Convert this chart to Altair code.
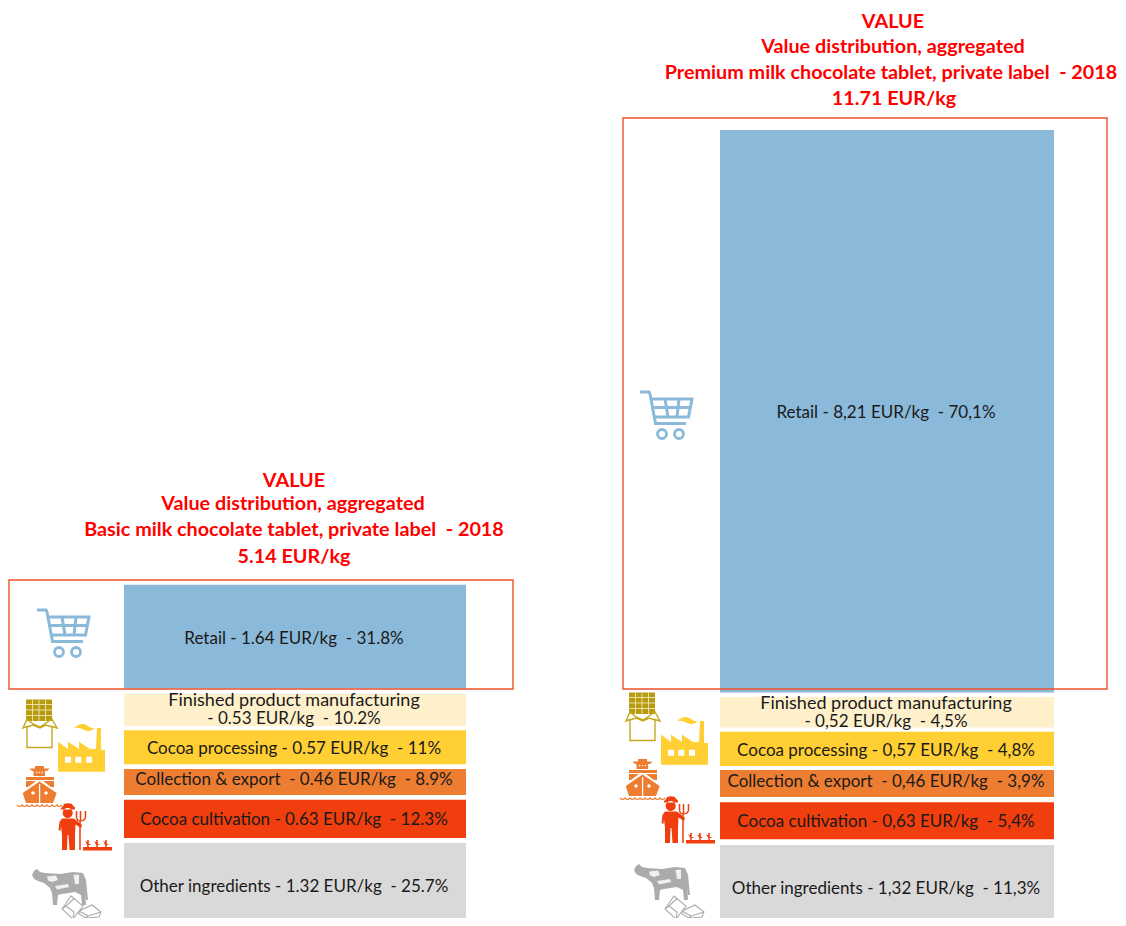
import altair as alt
import pandas as pd

# ---- data -----------------------------------------------------------------------
stages = ["Other ingredients", "Cocoa cultivation", "Collection & export",
          "Cocoa processing", "Finished product manufacturing", "Retail"]
colors = ["#D9D9D9", "#F03E0E", "#ED7D31", "#FFCF33", "#FFF0CC", "#8AB9D9"]
# drawn bar heights, bottom to top, in the chart's vertical units
basic_heights = [1.344, 0.628, 0.426, 0.557, 0.528, 1.697]
premium_heights = [1.311, 0.607, 0.443, 0.562, 0.500, 9.221]
basic_gaps = [0.082, 0.077, 0.077, 0.070, 0.090]
premium_gaps = [0.093, 0.087, 0.066, 0.069, 0.074]
NB = "\u00a0"
basic_labels = [f"Other ingredients - 1.32 EUR/kg {NB}- 25.7%",
                f"Cocoa cultivation - 0.63 EUR/kg {NB}- 12.3%",
                f"Collection & export {NB}- 0.46 EUR/kg {NB}- 8.9%",
                f"Cocoa processing - 0.57 EUR/kg {NB}- 11%",
                f"Finished product manufacturing\n- 0.53 EUR/kg {NB}- 10.2%",
                f"Retail - 1.64 EUR/kg {NB}- 31.8%"]
premium_labels = [f"Other ingredients - 1,32 EUR/kg {NB}- 11,3%",
                  f"Cocoa cultivation - 0,63 EUR/kg {NB}- 5,4%",
                  f"Collection & export {NB}- 0,46 EUR/kg {NB}- 3,9%",
                  f"Cocoa processing - 0,57 EUR/kg {NB}- 4,8%",
                  f"Finished product manufacturing\n- 0,52 EUR/kg {NB}- 4,5%",
                  f"Retail - 8,21 EUR/kg {NB}- 70,1%"]
basic_title = ["VALUE", "Value distribution, aggregated",
               f"Basic milk chocolate tablet, private label {NB}- 2018", "5.14 EUR/kg"]
premium_title = ["VALUE", "Value distribution, aggregated",
                 f"Premium milk chocolate tablet, private label {NB}- 2018", "11.71 EUR/kg"]

# ---- layout ---------------------------------------------------------------------
W, H = 1110, 910        # the page keeps an 8px margin, so this is all that fits
M = 8
UNIT = 61.0
FONT = "Lato"
LABEL_SIZE = 17
LINE = 18
TITLE_SIZE = 19.8
RED = "#FF0000"
FRAME = "#F0502A"
BLUE, GOLD, YELLOW, ORANGE, FLAME, GREY = "#8AB9D9", "#C4A920", "#FFCF33", "#ED7D31", "#F03E0E", "#ABABAB"

x_scale = alt.Scale(domain=[0, W], range=[0, W], nice=False, zero=False)
y_scale = alt.Scale(domain=[-1 / UNIT, 917 / UNIT], range=[918, 0], nice=False, zero=False)
# label nudges in pixels (upwards positive): panel -> stage index -> nudge
NUDGE = {"Basic": {0: -2.5, 1: -1, 2: 2, 3: -2, 4: -0.5, 5: -2},
         "Premium": {0: -4, 1: -1, 2: 1.5, 3: -2, 4: -0.5, 5: -1.5}}


def segments(panel, heights, gaps, labels, left, right):
    rows, texts, y = [], [], 0.0
    for i, s in enumerate(stages):
        rows.append(dict(panel=panel, stage=s, y0=y, y1=y + heights[i],
                         xa=left - M, xb=right - M))
        parts = labels[i].split("\n")
        mid = y + heights[i] / 2 + NUDGE[panel].get(i, 0) / UNIT
        for k, part in enumerate(parts):
            off = ((len(parts) - 1) / 2 - k) * LINE / UNIT
            texts.append(dict(label=part, xc=(left + right) / 2 - M - 1, ym=mid + off,
                              fs=18 if part.startswith("Finished") else LABEL_SIZE))
        if i < len(gaps):
            y += heights[i] + gaps[i]
    return rows, texts


r1, t1 = segments("Basic", basic_heights, basic_gaps, basic_labels, 124, 466)
r2, t2 = segments("Premium", premium_heights, premium_gaps, premium_labels, 720, 1054)
df = pd.DataFrame(r1 + r2)
tf = pd.DataFrame(t1 + t2)

bars = alt.Chart(df).mark_rect(opacity=1).encode(
    x=alt.X("xa:Q", scale=x_scale, axis=None), x2="xb:Q",
    y=alt.Y("y0:Q", scale=y_scale, axis=None), y2="y1:Q",
    color=alt.Color("stage:N", scale=alt.Scale(domain=stages, range=colors), legend=None),
)
labels = alt.Chart(tf).mark_text(font=FONT, color="#1A1A1A", baseline="middle", align="center").encode(
    x=alt.X("xc:Q", scale=x_scale, axis=None),
    y=alt.Y("ym:Q", scale=y_scale, axis=None),
    size=alt.Size("fs:Q", scale=None, legend=None),
    text="label:N",
)

layers = [bars, labels]
BLANK = alt.Data(values=[{"a": 1}])


def frame(x0, y0, x1, y1):
    return alt.Chart(BLANK).mark_rect(fill=None, stroke=FRAME, strokeWidth=1.4).encode(
        x=alt.value(x0 - M), x2=alt.value(x1 - M), y=alt.value(y0 - M), y2=alt.value(y1 - M))


layers += [frame(9, 580, 513, 689), frame(623, 118, 1107, 689)]

for lines, cxs, ys in [(basic_title, [294, 293, 294, 294], [481, 504, 530, 557]),
                       (premium_title, [893, 893, 891, 894], [22, 47, 73, 99])]:
    for t, cx, yy in zip(lines, cxs, ys):
        layers.append(alt.Chart(alt.Data(values=[{"t": t}])).mark_text(
            font=FONT, fontSize=TITLE_SIZE, fontWeight="bold", color=RED, baseline="middle", align="center"
        ).encode(x=alt.value(cx - M), y=alt.value(yy - M), text="t:N"))


def circle(cx, cy, r):
    return f"M{cx-r},{cy}A{r},{r} 0 1 1 {cx+r},{cy}A{r},{r} 0 1 1 {cx-r},{cy}Z"


# icon outlines, in page pixels of the left-hand copy
CART = ("M37,610L46,610L47,612L52.5,641.5L83,641.5M48,617L89,617L85.5,635L52,635"
        "M50,625.5L87,625.5M62,617L65,635M76,617L74,635")
CART_W = circle(59, 652, 4.5) + circle(76, 652, 4.5)
TABLET = "M26,699.5L52,699.5L52,721L26,721Z"
TABLET_GRID = ("M26,704.5L52,704.5M26,710L52,710M26,715.5L52,715.5"
               "M32.5,699.5L32.5,721M39,699.5L39,721M45.5,699.5L45.5,721")
WRAP = ("M23,728L27,719L33,724L40,727L46,723L52,719L57,728L52,726.5L52,747.5L27,747.5L27,726.5Z"
        "M27,727L33,725L40,728L46,725L52,727")
FACTORY = ("M58,771.7L58,741.7L68,749L68,741.7L79,749L79,741.7L90,749L96,749L97,728L101,728"
           "L101,750L105,750L105,771.7Z")
WINDOWS = "M65,756.7H71V762.7H65ZM75.3,756.7H81.3V762.7H75.3ZM86,756.7H92V762.7H86Z"
SMOKE = "M74,728Q82,721 88,726Q92,729 95,728Q90,733 84,730Q79,727 74,728Z"
SHIP = ("M35,766H44V768.5H49.5L47,771H45V776H33.5V771H32L29.5,768.5H35Z"
        "M26,777H54V780H26ZM26,781H36L28,787H26ZM54,781H43L51,787H54Z"
        "M39.5,781.5L56.7,793L53,803H26L22.7,793Z")
SHIP_W = ("M39,784H40.2V803H39Z" + circle(33, 793, 1.7) + circle(46, 793, 1.7)
          + circle(36.5, 772.5, .8) + circle(39.5, 772.5, .8) + circle(42.5, 772.5, .8))
WAVE = ("M17,805Q19.5,808 22,805Q24.5,808 27,805Q29.5,808 32,805Q34.5,808 37,805Q39.5,808 42,805"
        "Q44.5,808 47,805Q49.5,808 52,805Q54.5,808 57,805Q59.5,808 62,805")
FARMER = (circle(67.7, 813, 5)
          + "M60.5,809.5H75V807.5Q72.5,805.5 72,804Q68,802.5 64,804Q63.5,806 61.5,807.5Z"
          + "M62,818.5H74L82,825L81,828L75.5,824.5L75,835L75,850L69.5,850L68.5,835L67.5,835L67,850L62,850L62,835"
          + "L61,826L60.5,831L58.5,830L59.5,822Z")
FORK = "M76.5,811L76.5,817Q77,821 80,821L80,850M80.5,811L80.5,821M85.5,811L85.5,817Q85,821 80,821"
PLANTS = ("M83,847H112V850.5H83Z"
          "M87.2,848L87.2,840H88.8V848ZM96.2,848L96.2,840H97.8V848ZM105.2,848L105.2,840H106.8V848Z"
          "M85,841L91,844.5L87.5,845.5ZM94,841L100,844.5L96.5,845.5ZM103,841L109,844.5L105.5,845.5Z")
COW = ("M32,875L34,871L37,869L40,872L45,873L60,874L73,872L83,873L86,880L87.5,895L88,900L86,900L85,890L86,905"
       "L82,905L81,895L75,892L62,894L58,895L57,905L53,905L52,893L50,888L44,883L38,881L34,879Z")
COW_W = ("M47,876.5L56,875.5L58,880L52,882L48,880.5ZM55,886L68,884L69,887L57,889.5ZM73.5,875L79,874.5L79,884L75,884Z")
# the sugar cubes sit a few pixels above their place so that the page edge does not cut them
CUBES = ("M62,909L71,896L83,906L73,919ZM66,906L74,912L73,919M71,896L74,898.5L66,906L62,909"
         "M79,911L92,905L101,912L99,917L86,918L79,914ZM79,911L88,916L86,918M88,916L101,912")


def icon(path, shift, color, filled=True, sw=1.0):
    kw = dict(filled=True, fill=color, strokeWidth=0, opacity=1) if filled else dict(
        filled=False, fill=None, stroke=color, strokeWidth=sw, opacity=1)
    return alt.Chart(BLANK).mark_point(shape=path, size=4, **kw).encode(
        x=alt.value(shift[0] - M), y=alt.value(shift[1] - M))


def icon_set(cart, main, cow):
    return [
        icon(CART, cart, BLUE, False, 3), icon(CART_W, cart, BLUE, False, 2.8),
        icon(TABLET, main, "#B79C12"), icon(TABLET_GRID, main, "#F2E7B0", False, 0.9),
        icon(WRAP, main, GOLD, False, 1.4),
        icon(FACTORY, main, YELLOW), icon(WINDOWS, main, "#FFFFFF"), icon(SMOKE, main, YELLOW),
        icon(SHIP, main, ORANGE), icon(SHIP_W, main, "#FFFFFF"), icon(WAVE, main, ORANGE, False, 1.2),
        icon(FARMER, main, FLAME), icon(FORK, main, FLAME, False, 1.5), icon(PLANTS, main, FLAME),
        icon(COW, cow, GREY), icon(COW_W, cow, "#F0F0F0"),
        icon(CUBES, (cow[0] + (1 if cow[0] else 0), 0), GREY, False, 1.1),
    ]


layers += icon_set((0, 0), (0, 0), (0, 0))
layers += icon_set((603, -218), (603, -7), (602, -5))

chart = alt.layer(*layers).properties(
    width=W, height=H, padding=0,
    autosize=alt.AutoSizeParams(type="none"),
    background="#FFFFFF",
).configure_view(stroke=None)

chart.save("out.html", embed_options={"renderer": "svg", "actions": False})
